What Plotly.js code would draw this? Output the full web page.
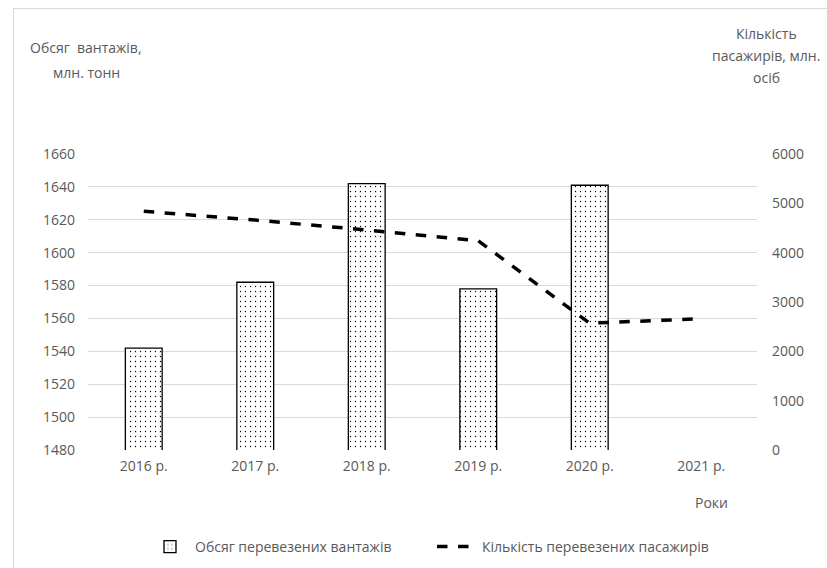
<!DOCTYPE html>
<html>
<head>
<meta charset="utf-8">
<script src="https://cdn.plot.ly/plotly-3.0.1.min.js"></script>
<style>
html,body{margin:0;padding:0;background:#fff;}
#wrap{position:absolute;left:0;top:0;width:827px;height:568px;}
#frame{position:absolute;left:13px;top:8px;width:830px;height:580px;border-left:1px solid #d9d9d9;border-top:1px solid #d9d9d9;pointer-events:none;}
#chart{position:absolute;left:0;top:0;width:827px;height:568px;}
</style>
</head>
<body>
<div id="wrap">
<div id="chart"></div>
<div id="frame"></div>
</div>
<script>
const years = ["2016 р.", "2017 р.", "2018 р.", "2019 р.", "2020 р.", "2021 р."];
const cargo = [1542, 1582, 1642, 1578, 1641, null];
const passengers = [4840, 4660, 4460, 4240, 2570, 2660];
const leftTicks = [1480, 1500, 1520, 1540, 1560, 1580, 1600, 1620, 1640, 1660];
const rightTicks = [0, 1000, 2000, 3000, 4000, 5000, 6000];

const fontFam = "Open Sans, Noto Sans, sans-serif";
const txt = "#595959";

const data = [
  {
    type: "bar",
    x: years,
    y: cargo,
    name: "Обсяг перевезених вантажів",
    width: 0.33,
    marker: {
      color: "#ffffff",
      line: {color: "#000000", width: 1.3},
      pattern: {shape: ".", fgcolor: "#000000", bgcolor: "#ffffff", size: 5, solidity: 0.05}
    },
    yaxis: "y"
  },
  {
    type: "scatter",
    mode: "lines",
    x: years,
    y: passengers,
    name: "Кількість перевезених пасажирів",
    line: {color: "#000000", width: 3.5, dash: "dash"},
    yaxis: "y2"
  }
];

const ann = (x, y, text, size) => ({
  xref: "paper", yref: "paper", x: x, y: y, xanchor: "center", yanchor: "middle",
  text: text, showarrow: false, font: {size: size || 14, color: txt}
});

// plot area: x 88..757 (w 669), y 154..450 (h 296)
const px = X => (X - 88) / 669;
const py = Y => (450 - Y) / 296;

const layout = {
  width: 827,
  height: 568,
  margin: {l: 88, r: 70, t: 154, b: 118, autoexpand: false},
  paper_bgcolor: "#ffffff",
  plot_bgcolor: "#ffffff",
  font: {family: fontFam, size: 14, color: txt},
  showlegend: true,
  legend: {
    orientation: "h",
    x: 432 / 827, xanchor: "center", xref: "container",
    y: 1 - 547 / 568, yanchor: "middle", yref: "container",
    font: {size: 14, color: txt},
    traceorder: "normal",
    itemwidth: 40,
    entrywidth: 232
  },
  xaxis: {
    type: "category",
    tickvals: years,
    ticktext: years,
    showgrid: false,
    showline: false,
    zeroline: false,
    ticks: "",
    ticklabelstandoff: 6,
    tickfont: {size: 14, color: txt}
  },
  yaxis: {
    range: [1480, 1660],
    tickvals: leftTicks,
    ticktext: leftTicks.map(String),
    showgrid: true,
    gridcolor: "#d9d9d9",
    gridwidth: 1,
    zeroline: false,
    showline: false,
    ticks: "",
    ticklabelstandoff: 12,
    tickfont: {size: 14, color: txt}
  },
  yaxis2: {
    overlaying: "y",
    side: "right",
    range: [0, 6000],
    tickvals: rightTicks,
    ticktext: rightTicks.map(String),
    showgrid: false,
    zeroline: false,
    showline: false,
    ticks: "",
    ticklabelstandoff: 14,
    tickfont: {size: 14, color: txt}
  },
  annotations: [
    ann(px(86), py(47), "Обсяг  вантажів,"),
    ann(px(86), py(73), "млн. тонн"),
    ann(px(766), py(33), "Кількість"),
    ann(px(766), py(55), "пасажирів, млн."),
    ann(px(766), py(77), "осіб"),
    ann(px(711), py(503), "Роки")
  ]
};

Plotly.newPlot("chart", data, layout, {displayModeBar: false, staticPlot: true});
</script>
</body>
</html>
